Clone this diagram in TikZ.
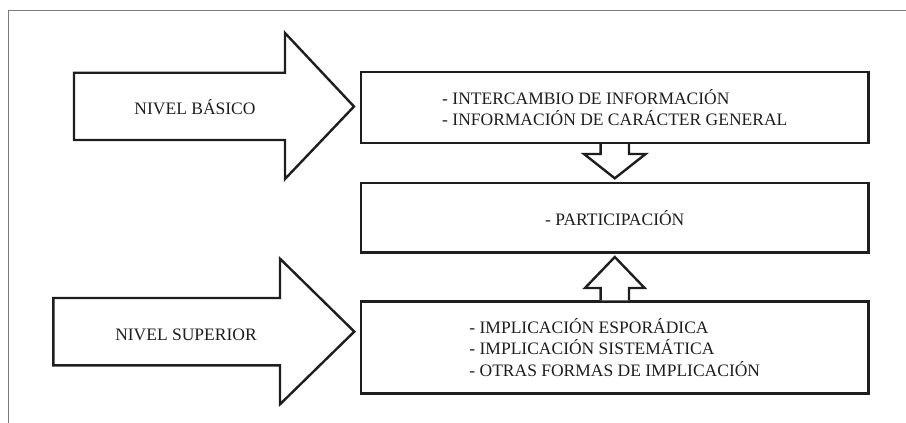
\documentclass[tikz,border=0pt]{standalone}
\usepackage{fontspec}
\setmainfont{Liberation Serif}
\usepackage{tikz}
\usepackage{xcolor}
\definecolor{inkline}{HTML}{1E1E1E}
\definecolor{pageline}{HTML}{7A7A7A}
\tikzset{
    level-box/.style = {draw=inkline, fill=white, line width=2.4pt, rectangle, minimum width=507.3pt, align=left, inner sep=0pt, level-text},
    fat-arrow/.style = {draw=inkline, fill=white, line width=2.4pt, line join=miter},
    level-text/.style = {font=\fontsize{17.5}{21.5}\selectfont, text=inkline},
}

\begin{document}
\begin{tikzpicture}[x=1pt, y=-1pt]
\useasboundingbox (0,0) rectangle (906,423);
\draw[pageline, line width=1pt] (906,10.5) -- (8,10.5) -- (8,423);

% the three boxes
\node[level-box, minimum height=70.6pt] (info) at (614.8,107.5) {- INTERCAMBIO DE INFORMACIÓN\\- INFORMACIÓN DE CARÁCTER GENERAL};
\node[level-box, minimum height=69.6pt] (part) at (614.8,217.7) {- PARTICIPACIÓN};
\node[level-box, minimum height=92pt] (impl) at (614.8,347.5) {- IMPLICACIÓN ESPORÁDICA\\- IMPLICACIÓN SISTEMÁTICA\\- OTRAS FORMAS DE IMPLICACIÓN};

% big arrows on the left
\draw[fat-arrow] (74,72.7) -- (285,72.7) -- (285,33) -- (354,106.5) -- (285,179) -- (285,140) -- (74,140) -- cycle;
\node[level-text] (basic) at (195,107) {NIVEL BÁSICO};
\draw[fat-arrow] (53.3,298) -- (280,298) -- (280,258.7) -- (354.3,331.6) -- (280,404.3) -- (280,365.3) -- (53.3,365.3) -- cycle;
\node[level-text] (superior) at (186,334.7) {NIVEL SUPERIOR};

% small arrows between the boxes
\draw[fat-arrow] ([xshift=-14.2pt]info.south) -- ++(0,10) -- ++(-16.6,0) -- ([yshift=3.4pt]part.north) -- ++(30.8,-24.3) -- ++(-16.6,0) -- ([xshift=14.2pt]info.south);
\draw[fat-arrow] ([xshift=-14.2pt]impl.north) -- ++(0,-12.3) -- ++(-15.6,0) -- ([yshift=-3.3pt]part.south) -- ++(29.8,31) -- ++(-15.6,0) -- ([xshift=14.2pt]impl.north);
\end{tikzpicture}
\end{document}
